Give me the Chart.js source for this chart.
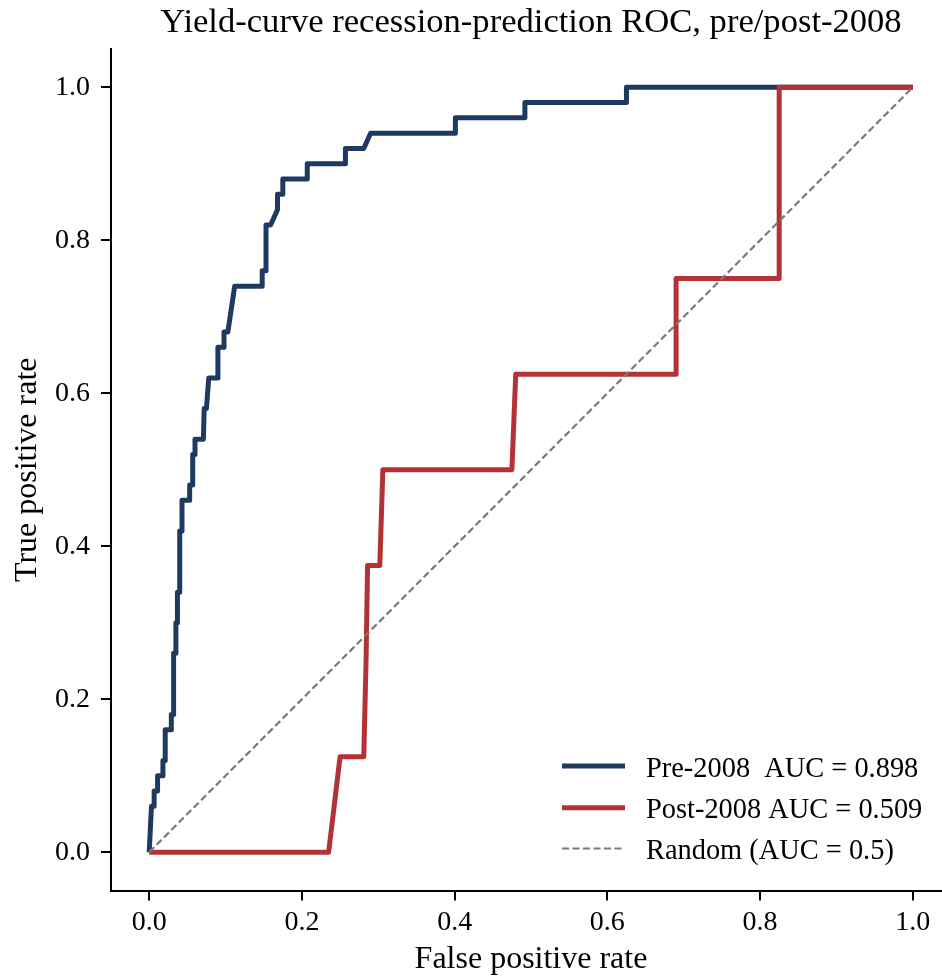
<!DOCTYPE html>
<html>
<head>
<meta charset="utf-8">
<title>Yield-curve ROC</title>
<script src="https://cdn.jsdelivr.net/npm/chart.js@4.4.1/dist/chart.umd.min.js"></script>
<style>
  html, body { margin: 0; padding: 0; background: #fff; overflow: hidden; }
  canvas { display: block; }
</style>
</head>
<body>
<!-- canvas is a bit wider than the window: the right end of the axis gets cut off like in the original -->
<canvas id="js--roc" width="951" height="979"></canvas>
<script>
// ROC points (false positive rate, true positive rate)
const preFpr = [
    0, 0.002, 0.003, 0.0065, 0.0065, 0.011, 0.011, 0.018, 0.018, 0.021,
    0.021, 0.029, 0.029, 0.032, 0.032, 0.035, 0.035, 0.037, 0.037, 0.040,
    0.040, 0.043, 0.043, 0.053, 0.053, 0.057, 0.057, 0.060, 0.060, 0.071,
    0.072, 0.075, 0.078, 0.090, 0.090, 0.098, 0.098, 0.103, 0.109, 0.112,
    0.148, 0.148, 0.153, 0.153, 0.159, 0.168, 0.168, 0.175, 0.175, 0.207,
    0.207, 0.257, 0.257, 0.281, 0.290, 0.401, 0.401, 0.492, 0.492, 0.625,
    0.625, 1.0];
const preTpr = [
    0, 0.04, 0.06, 0.06, 0.08, 0.08, 0.10, 0.10, 0.12, 0.12,
    0.16, 0.16, 0.18, 0.18, 0.26, 0.26, 0.30, 0.30, 0.34, 0.34,
    0.42, 0.42, 0.46, 0.46, 0.48, 0.48, 0.52, 0.52, 0.54, 0.54,
    0.58, 0.58, 0.62, 0.62, 0.66, 0.66, 0.68, 0.68, 0.72, 0.74,
    0.74, 0.76, 0.76, 0.82, 0.82, 0.84, 0.86, 0.86, 0.88, 0.88,
    0.90, 0.90, 0.92, 0.92, 0.94, 0.94, 0.96, 0.96, 0.98, 0.98,
    1.0, 1.0];

const postFpr = [0, 0.235, 0.250, 0.281, 0.284, 0.286, 0.302, 0.306, 0.475, 0.480, 0.690, 0.690, 0.825, 0.825, 1.0];
const postTpr = [0, 0, 0.125, 0.125, 0.25, 0.375, 0.375, 0.5, 0.5, 0.625, 0.625, 0.75, 0.75, 1.0, 1.0];

const randomFpr = [0, 1];
const randomTpr = [0, 1];

const tickVals = [0, 0.2, 0.4, 0.6, 0.8, 1.0];

const legendLabels = ['Pre-2008  AUC = 0.898', 'Post-2008 AUC = 0.509', 'Random (AUC = 0.5)'];

const blue = '#1f3a60';
const red = '#b23236';
const grey = '#7a7a7a';

function toPoints(xs, ys) {
    return xs.map(function (x, i) { return { x: x, y: ys[i] }; });
}

Chart.defaults.font.family = "'Liberation Serif', 'Times New Roman', 'DejaVu Serif', serif";
Chart.defaults.color = '#000';

// legend sits inside the plot, bottom right
const rocLegend = {
    id: 'rocLegend',
    afterDatasetsDraw(chart) {
        const ctx = chart.ctx;
        const rows = [766, 807.7, 848.5];
        const styles = [
            { color: blue, width: 5, dash: [] },
            { color: red, width: 5, dash: [] },
            { color: grey, width: 2.2, dash: [7, 3.5] },
        ];
        ctx.save();
        ctx.font = "28.4px 'Liberation Serif', 'Times New Roman', serif";
        ctx.textBaseline = 'alphabetic';
        ctx.textAlign = 'left';
        rows.forEach(function (y, i) {
            ctx.beginPath();
            ctx.strokeStyle = styles[i].color;
            ctx.lineWidth = styles[i].width;
            ctx.setLineDash(styles[i].dash);
            ctx.moveTo(562, y);
            ctx.lineTo(625, y);
            ctx.stroke();
            ctx.setLineDash([]);
            ctx.fillStyle = '#000';
            ctx.fillText(legendLabels[i], 646, y + 10.6);
        });
        ctx.restore();
    }
};

const data = {
    datasets: [
        {
            label: legendLabels[0],
            data: toPoints(preFpr, preTpr),
            borderColor: blue,
            borderWidth: 5,
            order: 3,
        },
        {
            label: legendLabels[1],
            data: toPoints(postFpr, postTpr),
            borderColor: red,
            borderWidth: 5,
            order: 2,
        },
        {
            label: legendLabels[2],
            data: toPoints(randomFpr, randomTpr),
            borderColor: grey,
            borderWidth: 2.2,
            borderDash: [7, 3.5],
            order: 1,
        }
    ]
};

function axisTicks(scale) {
    scale.ticks = tickVals.map(function (v) { return { value: v }; });
}

const config = {
    type: 'scatter',
    data: data,
    options: {
        responsive: false,
        devicePixelRatio: 1,
        animation: false,
        showLine: true,
        layout: { padding: 0 },
        elements: {
            point: { radius: 0, hoverRadius: 0 },
            line: { tension: 0, fill: false, borderJoinStyle: 'round', borderCapStyle: 'butt' }
        },
        plugins: {
            legend: { display: false },
            tooltip: { enabled: false },
            title: {
                display: true,
                fullSize: false,
                text: 'Yield-curve recession-prediction ROC, pre/post-2008',
                font: { size: 34.6, weight: 'normal' },
                color: '#000',
                padding: { top: 2.5, bottom: 5 }
            }
        },
        scales: {
            x: {
                type: 'linear',
                min: -0.05,
                max: 1.05,
                afterBuildTicks: axisTicks,
                afterFit: function (s) { s.height = 88.5; },
                ticks: {
                    font: { size: 28 },
                    color: '#000',
                    padding: 5,
                    maxRotation: 0,
                    autoSkip: false,
                    callback: function (v) { return Number(v).toFixed(1); }
                },
                grid: { display: true, drawOnChartArea: false, drawTicks: true, tickLength: 10, color: '#000', lineWidth: 2 },
                border: { display: true, color: '#000', width: 2 },
                title: {
                    display: true,
                    text: 'False positive rate',
                    font: { size: 32 },
                    color: '#000',
                    padding: { top: 0, bottom: 0 }
                }
            },
            y: {
                type: 'linear',
                min: -0.05,
                max: 1.05,
                afterBuildTicks: axisTicks,
                afterFit: function (s) { s.width = 111; },
                ticks: {
                    font: { size: 28 },
                    color: '#000',
                    padding: 11,
                    autoSkip: false,
                    callback: function (v) { return Number(v).toFixed(1); }
                },
                grid: { display: true, drawOnChartArea: false, drawTicks: true, tickLength: 10, color: '#000', lineWidth: 2 },
                border: { display: true, color: '#000', width: 2 },
                title: {
                    display: true,
                    text: 'True positive rate',
                    font: { size: 32 },
                    color: '#000',
                    padding: { top: 8.5, bottom: 0 }
                }
            }
        }
    },
    plugins: [rocLegend]
};

new Chart(document.getElementById('js--roc'), config);
</script>
</body>
</html>
